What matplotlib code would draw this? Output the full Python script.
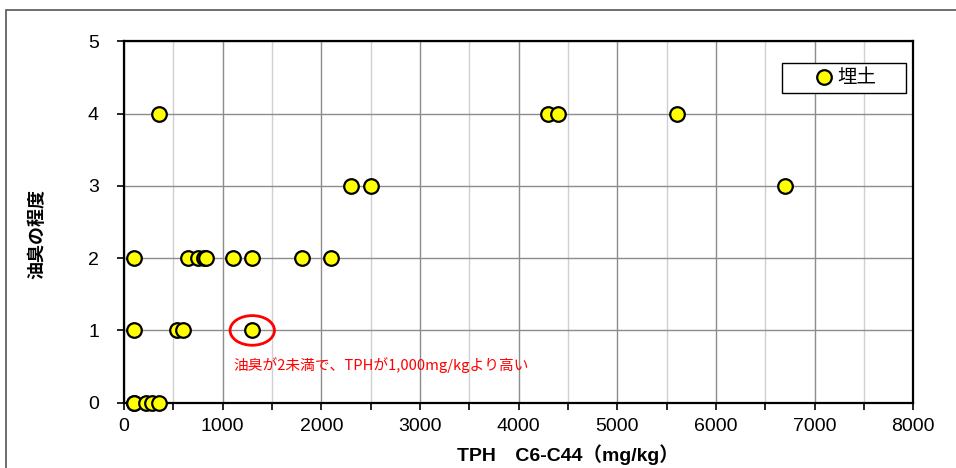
import matplotlib
matplotlib.use("Agg")
import matplotlib.pyplot as plt
from matplotlib.patches import Ellipse, Rectangle
from matplotlib.ticker import MultipleLocator

plt.rcParams['font.family'] = ['Liberation Sans', 'Noto Sans CJK JP', 'DejaVu Sans']

# TPH concentration (mg/kg) and odour grade for fill soil samples
tph = [100, 100, 220, 280, 350,
       100, 535, 600, 1300,
       100, 645, 745, 810, 835, 1100, 1300, 1800, 2100,
       2300, 2500, 6700,
       350, 4300, 4400, 5600]
odour = [0, 0, 0, 0, 0,
         1, 1, 1, 1,
         2, 2, 2, 2, 2, 2, 2, 2, 2,
         3, 3, 3,
         4, 4, 4, 4]

series_label = '埋土'
x_label = 'TPH　C6-C44（mg/kg）'
y_label = '油臭の程度'
note_text = '油臭が2未満で、TPHが1,000mg/kgより高い'
highlight = (1300, 1)

W, H = 956, 468
fig = plt.figure(figsize=(W / 100, H / 100), dpi=100)

# outer chart frame
fig.patches.append(Rectangle((6 / W, -0.5), 2.0, 1.5 - 10 / H,
                             transform=fig.transFigure, fill=False,
                             edgecolor='#555555', linewidth=1.2))

ax = fig.add_axes([124 / W, 1 - 402.7 / H, (913.3 - 124) / W, (402.7 - 41.3) / H])

ax.set_xlim(0, 8000)
ax.set_ylim(0, 5)
ax.xaxis.set_major_locator(MultipleLocator(1000))
ax.xaxis.set_minor_locator(MultipleLocator(500))
ax.yaxis.set_major_locator(MultipleLocator(1))

ax.grid(which='major', axis='both', color='#8c8c8c', linewidth=1.0)
ax.grid(which='minor', axis='x', color='#d0d0d0', linewidth=1.0)
ax.set_axisbelow(True)

for s in ax.spines.values():
    s.set_linewidth(1.6)
    s.set_color('black')

ax.tick_params(axis='both', which='major', direction='out', length=5, width=1.2,
               labelsize=14)
ax.tick_params(axis='y', which='major', pad=13)
ax.tick_params(axis='x', which='major', pad=6)
ax.tick_params(axis='x', which='minor', direction='out', length=5, width=1.2)

ax.plot(tph, odour, linestyle='none', marker='o', markersize=10.5,
        markerfacecolor='#ffff00', markeredgecolor='black', markeredgewidth=1.6,
        label=series_label, clip_on=False, zorder=5)

ax.add_patch(Ellipse(highlight, width=450, height=0.41, fill=False,
                     edgecolor='#ff0000', linewidth=2.0, zorder=6))
ax.text(1110, 0.52, note_text, color='#ff0000', fontsize=10.6,
        family=['Noto Sans CJK JP', 'DejaVu Sans'], va='center', ha='left')

# axis titles
fig.text(568 / W, 1 - 455 / H, x_label, fontsize=14, fontweight='bold',
         family=['Liberation Sans', 'Noto Sans CJK JP'], ha='center', va='center')
fig.text(37 / W, 1 - 234 / H, y_label, fontsize=13, fontweight='bold',
         family=['Noto Sans CJK JP'], rotation=90, ha='center', va='center')

# legend box
ax.add_patch(Rectangle((0.8337, 0.857), 0.157, 0.083, transform=ax.transAxes,
                       facecolor='white', edgecolor='black', linewidth=1.0,
                       zorder=7))
leg = ax.legend(loc='center', bbox_to_anchor=(0.914, 0.8985), frameon=False,
                prop={'family': ['Noto Sans CJK JP'], 'size': 14},
                handletextpad=0.15, borderpad=0.0, handlelength=1.0,
                markerscale=1.0)
leg.set_zorder(8)

fig.savefig('out.png', dpi=100)
